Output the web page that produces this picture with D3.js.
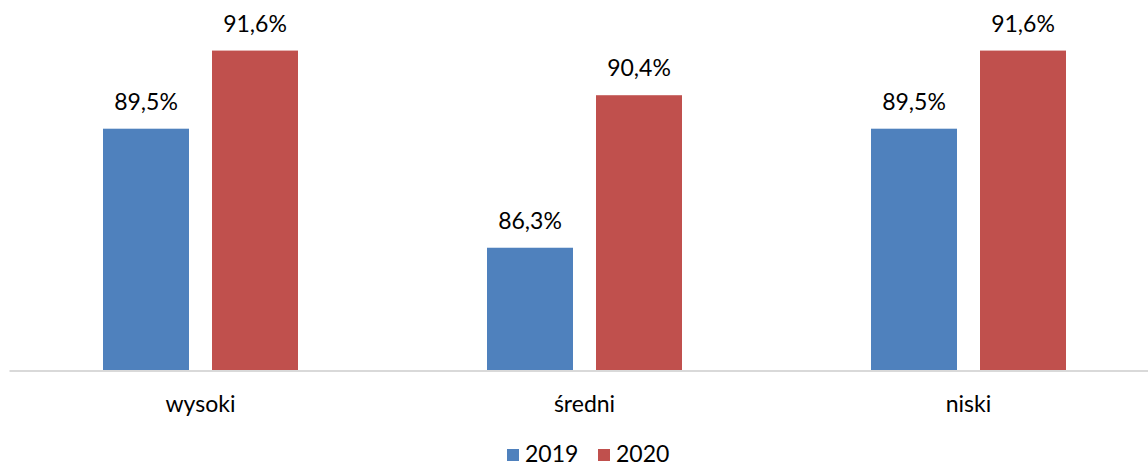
<!DOCTYPE html>
<html>
<head>
<meta charset="utf-8">
<script src="https://cdn.jsdelivr.net/npm/d3@7"></script>
<style>
body { margin: 0; background: #fff; }
text { font-family: Lato, "Open Sans", sans-serif; fill: #000; }
</style>
</head>
<body>
<div class="visualisation"></div>
<script>
// DATA
var categories = ["wysoki", "średni", "niski"];
var seriesNames = ["2019", "2020"];
var values2019 = [89.5, 86.3, 89.5];
var values2020 = [91.6, 90.4, 91.6];
var colors = ["#4f81bd", "#c0504d"];

var width = 1148, height = 464;
var baseY = 370.5;
var fontSize = "23px";

var svg = d3.select(".visualisation").append("svg")
	.attr("width", width)
	.attr("height", height);

var x0 = d3.scaleBand().domain(categories).range([8.5, 1160.5]);
var x1 = d3.scaleBand().domain(seriesNames).range([94.5, 289.5]).paddingInner(0.211);
var y = d3.scaleLinear().domain([83, 92]).range([baseY, 35.7]);
var color = d3.scaleOrdinal().domain(seriesNames).range(colors);

var rows = categories.map(function(c, i){
	return {cat: c, vals: [
		{s: seriesNames[0], v: values2019[i]},
		{s: seriesNames[1], v: values2020[i]}
	]};
});

function fmt(v){ return d3.format(".1f")(v).replace(".", ",") + "%"; }

var groups = svg.selectAll("g.cat").data(rows).enter().append("g")
	.attr("class", "cat")
	.attr("transform", function(d){ return "translate(" + x0(d.cat) + ",0)"; });

groups.selectAll("rect").data(function(d){ return d.vals; }).enter().append("rect")
	.attr("x", function(d){ return x1(d.s); })
	.attr("y", function(d){ return y(d.v); })
	.attr("width", x1.bandwidth())
	.attr("height", function(d){ return baseY - y(d.v); })
	.attr("fill", function(d){ return color(d.s); });

groups.selectAll("text.val").data(function(d){ return d.vals; }).enter().append("text")
	.attr("class", "val")
	.attr("x", function(d){ return x1(d.s) + x1.bandwidth() / 2; })
	.attr("y", function(d){ return y(d.v) - 19; })
	.attr("text-anchor", "middle")
	.style("font-size", fontSize)
	.text(function(d){ return fmt(d.v); });

// AXIS
var xAxis = svg.append("g")
	.attr("class", "x-axis")
	.attr("transform", "translate(0," + (baseY + 0.5) + ")")
	.call(d3.axisBottom(x0).tickSize(0).tickPadding(25));
xAxis.select(".domain").attr("stroke", "#d9d9d9").attr("stroke-width", 2).attr("d", "M9.5,0H1160.5");
xAxis.selectAll(".tick text")
	.style("font-size", fontSize)
	.style("font-family", "Lato, sans-serif")
	.attr("fill", "#000");

// LEGEND
var legendX = [507, 598];
var legend = svg.selectAll("g.legend").data(seriesNames).enter().append("g")
	.attr("class", "legend")
	.attr("transform", function(d, i){ return "translate(" + legendX[i] + ",449)"; });
legend.append("rect").attr("width", 12).attr("height", 12).attr("fill", function(d){ return color(d); });
legend.append("text").attr("x", 18).attr("y", 13).style("font-size", fontSize).text(function(d){ return d; });
</script>
</body>
</html>
